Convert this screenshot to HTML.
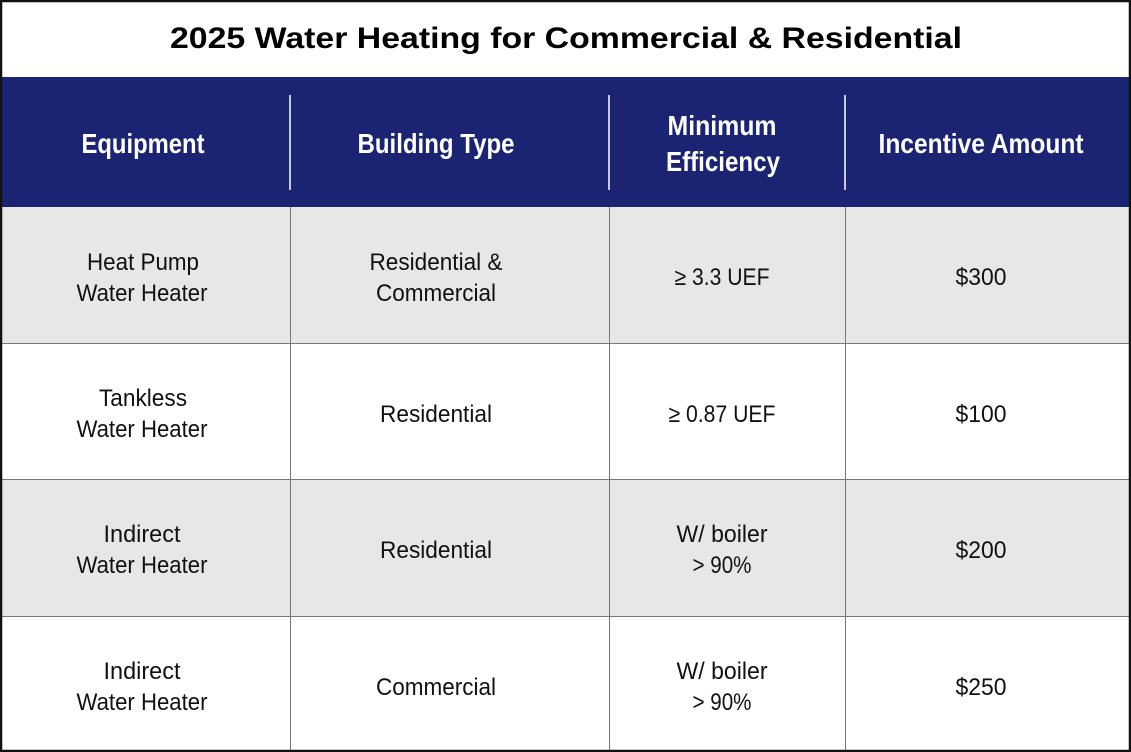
<!DOCTYPE html>
<html><head><meta charset="utf-8"><style>
html,body{margin:0;padding:0;background:#fff}
svg{display:block}
text{font-family:"Liberation Sans",sans-serif}
</style></head><body>
<svg width="1131" height="752" viewBox="0 0 1131 752">
<rect x="0" y="0" width="1131" height="752" fill="#fff"/>
<text x="566" y="48" text-anchor="middle" font-size="30" font-weight="bold" textLength="792" lengthAdjust="spacingAndGlyphs" fill="#000">2025 Water Heating for Commercial &amp; Residential</text>
<rect x="0" y="77" width="1131" height="130" fill="#1b2472"/>
<g stroke="#fff" stroke-width="1.5">
<line x1="290" y1="95" x2="290" y2="190"/><line x1="609" y1="95" x2="609" y2="190"/><line x1="845" y1="95" x2="845" y2="190"/>
</g>
<g fill="#fff" font-weight="bold" font-size="28" text-anchor="middle">
<text x="143" y="153" textLength="123" lengthAdjust="spacingAndGlyphs">Equipment</text>
<text x="436" y="153" textLength="157" lengthAdjust="spacingAndGlyphs">Building Type</text>
<text x="722" y="135" textLength="109" lengthAdjust="spacingAndGlyphs">Minimum</text>
<text x="723" y="171" textLength="114" lengthAdjust="spacingAndGlyphs">Efficiency</text>
<text x="981" y="153" textLength="205" lengthAdjust="spacingAndGlyphs">Incentive Amount</text>
</g>
<rect x="0" y="207" width="1131" height="136" fill="#e6e7e6"/>
<rect x="0" y="479" width="1131" height="137" fill="#e6e7e6"/>
<g stroke="#777" stroke-width="1">
<line x1="0" y1="343.5" x2="1131" y2="343.5"/><line x1="0" y1="479.5" x2="1131" y2="479.5"/><line x1="0" y1="616.5" x2="1131" y2="616.5"/>
<line x1="290.5" y1="207" x2="290.5" y2="752"/><line x1="609.5" y1="207" x2="609.5" y2="752"/><line x1="845.5" y1="207" x2="845.5" y2="752"/>
</g>
<g fill="#111" font-size="24" text-anchor="middle">
<text x="143" y="270" textLength="112" lengthAdjust="spacingAndGlyphs">Heat Pump</text>
<text x="142" y="301" textLength="131" lengthAdjust="spacingAndGlyphs">Water Heater</text>
<text x="436" y="270" textLength="133" lengthAdjust="spacingAndGlyphs">Residential &amp;</text>
<text x="436" y="301" textLength="120" lengthAdjust="spacingAndGlyphs">Commercial</text>
<text x="722" y="285" textLength="95" lengthAdjust="spacingAndGlyphs">≥ 3.3 UEF</text>
<text x="981" y="285" textLength="51" lengthAdjust="spacingAndGlyphs">$300</text>

<text x="143" y="406" textLength="88" lengthAdjust="spacingAndGlyphs">Tankless</text>
<text x="142" y="437" textLength="131" lengthAdjust="spacingAndGlyphs">Water Heater</text>
<text x="436" y="422" textLength="112" lengthAdjust="spacingAndGlyphs">Residential</text>
<text x="722" y="422" textLength="107" lengthAdjust="spacingAndGlyphs">≥ 0.87 UEF</text>
<text x="981" y="422" textLength="51" lengthAdjust="spacingAndGlyphs">$100</text>

<text x="142" y="542" textLength="77" lengthAdjust="spacingAndGlyphs">Indirect</text>
<text x="142" y="573" textLength="131" lengthAdjust="spacingAndGlyphs">Water Heater</text>
<text x="436" y="558" textLength="112" lengthAdjust="spacingAndGlyphs">Residential</text>
<text x="722" y="542" textLength="91" lengthAdjust="spacingAndGlyphs">W/ boiler</text>
<text x="722" y="573" textLength="59" lengthAdjust="spacingAndGlyphs">&gt; 90%</text>
<text x="981" y="558" textLength="51" lengthAdjust="spacingAndGlyphs">$200</text>

<text x="142" y="679" textLength="77" lengthAdjust="spacingAndGlyphs">Indirect</text>
<text x="142" y="710" textLength="131" lengthAdjust="spacingAndGlyphs">Water Heater</text>
<text x="436" y="695" textLength="120" lengthAdjust="spacingAndGlyphs">Commercial</text>
<text x="722" y="679" textLength="91" lengthAdjust="spacingAndGlyphs">W/ boiler</text>
<text x="722" y="710" textLength="59" lengthAdjust="spacingAndGlyphs">&gt; 90%</text>
<text x="981" y="695" textLength="51" lengthAdjust="spacingAndGlyphs">$250</text>
</g>
<rect x="1" y="1" width="1129" height="750" fill="none" stroke="#111" stroke-width="2.5"/>
</svg>
</body></html>
